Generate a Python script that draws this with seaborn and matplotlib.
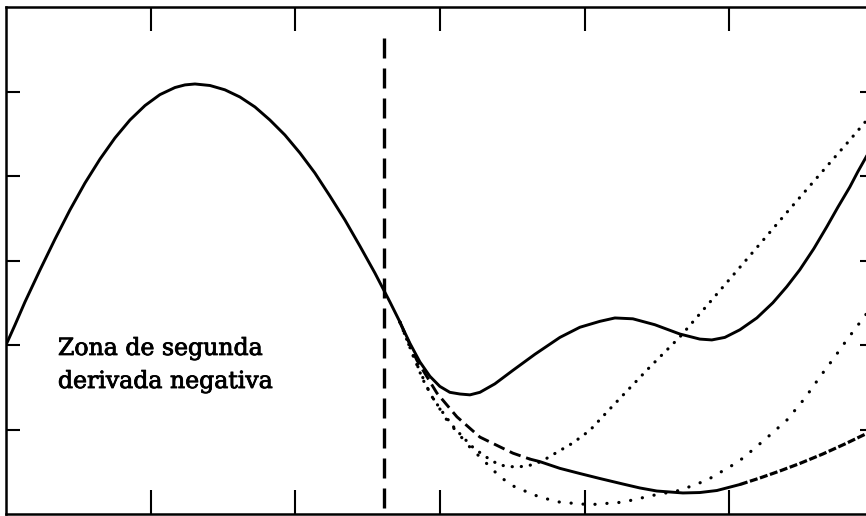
import numpy as np
import pandas as pd
import matplotlib
matplotlib.use("Agg")
import matplotlib.pyplot as plt
import matplotlib.patheffects as pe
import seaborn as sns

# ---- data (axis units: x ticks at 1..5, y ticks at 1..5) ----
main_x = [0.000, 0.062, 0.131, 0.235, 0.339, 0.442, 0.546, 0.650, 0.753, 0.857,
          0.961, 1.064, 1.168, 1.237, 1.306, 1.410, 1.513, 1.617, 1.721, 1.824,
          1.928, 2.032, 2.135, 2.239, 2.343, 2.446, 2.550, 2.654, 2.723]
main_y = [2.000, 2.237, 2.509, 2.888, 3.254, 3.598, 3.917, 4.201, 4.450, 4.663,
          4.834, 4.963, 5.047, 5.078, 5.089, 5.071, 5.020, 4.935, 4.817, 4.663,
          4.485, 4.272, 4.036, 3.763, 3.479, 3.172, 2.852, 2.509, 2.272]

upper_x = [2.723, 2.792, 2.861, 2.930, 2.999, 3.068, 3.138, 3.207, 3.276, 3.379,
           3.504, 3.656, 3.829, 3.967, 4.105, 4.209, 4.333, 4.485, 4.658, 4.796,
           4.879, 4.969, 5.073, 5.190, 5.301, 5.397, 5.487, 5.584, 5.674, 5.750,
           5.833, 5.888, 5.957]
upper_y = [2.27, 2.02, 1.80, 1.63, 1.51, 1.44, 1.42, 1.41, 1.44, 1.54,
           1.70, 1.89, 2.09, 2.21, 2.28, 2.32, 2.31, 2.24, 2.13, 2.07,
           2.06, 2.09, 2.18, 2.32, 2.50, 2.69, 2.89, 3.14, 3.40, 3.63,
           3.87, 4.05, 4.26]

lower_x = [2.723, 2.840, 2.979, 3.117, 3.276, 3.504, 3.621, 3.690, 3.829, 3.967,
           4.105, 4.264, 4.382, 4.499, 4.679, 4.796, 4.914, 5.073, 5.211, 5.349,
           5.487, 5.646, 5.798, 5.957]
lower_y = [2.27, 1.82, 1.43, 1.15, 0.91, 0.72, 0.65, 0.62, 0.54, 0.479,
           0.420, 0.355, 0.308, 0.272, 0.249, 0.254, 0.278, 0.349, 0.426, 0.509,
           0.598, 0.710, 0.828, 0.959]

dot1_x = [2.723, 2.813, 2.882, 2.951, 3.020, 3.089, 3.158, 3.227, 3.297, 3.359,
          3.414, 3.483, 3.552, 3.607, 3.670, 3.739, 3.808, 3.918, 4.036, 4.174,
          4.312, 4.451, 4.658, 4.831, 5.024, 5.211, 5.397, 5.556, 5.715, 5.833,
          5.957]
dot1_y = [2.27, 1.88, 1.59, 1.37, 1.20, 1.04, 0.91, 0.79, 0.70, 0.63,
          0.58, 0.56, 0.56, 0.57, 0.60, 0.66, 0.73, 0.84, 0.99, 1.243,
          1.491, 1.740, 2.095, 2.438, 2.822, 3.195, 3.568, 3.882, 4.195, 4.426,
          4.675]

dot2_x = [2.723, 2.827, 2.930, 3.048, 3.207, 3.345, 3.414, 3.518, 3.690, 3.829,
          4.036, 4.264, 4.471, 4.658, 4.845, 5.024, 5.093, 5.245, 5.397, 5.522,
          5.625, 5.729, 5.812, 5.957]
dot2_y = [2.27, 1.82, 1.43, 1.11, 0.79, 0.56, 0.44, 0.32, 0.20, 0.14,
          0.11, 0.14, 0.22, 0.28, 0.40, 0.58, 0.66, 0.88, 1.11, 1.37,
          1.62, 1.86, 2.06, 2.39]

vline_x = [2.61, 2.61]
vline_y = [0.07, 5.70]

x_ticks = [1, 2, 3, 4, 5]
y_ticks = [1, 2, 3, 4, 5]
label_lines = ["Zona de segunda", "derivada negativa"]
label_x = 0.359
label_y = [1.882, 1.491]

# ---- figure ----
sns.set_style("ticks")
plt.rcParams['font.family'] = ['DejaVu Serif']

fig = plt.figure(figsize=(8.66, 5.16), dpi=100)
ax = fig.add_axes([6 / 866, 2 / 516, 868 / 866, 507 / 516])

ink = "black"

def draw(xs, ys, **kw):
    df = pd.DataFrame({"x": xs, "y": ys})
    sns.lineplot(data=df, x="x", y="y", sort=False, estimator=None, ax=ax,
                 color=ink, legend=False, solid_joinstyle="round",
                 dash_joinstyle="round", **kw)

draw(main_x, main_y, linewidth=2.1)
draw(upper_x, upper_y, linewidth=2.1)

# lower branch: dashed, then solid, then dense dashes
i1, i2 = 6, 17
draw(lower_x[:i1 + 1], lower_y[:i1 + 1], linewidth=2.1, linestyle=(0, (4, 2)))
draw(lower_x[i1:i2 + 1], lower_y[i1:i2 + 1], linewidth=2.1)
draw(lower_x[i2:], lower_y[i2:], linewidth=2.3, linestyle=(0, (2.5, 0.8)))

draw(dot1_x, dot1_y, linewidth=2.3, linestyle=(0, (0.05, 2.8)), dash_capstyle="round")
draw(dot2_x, dot2_y, linewidth=2.3, linestyle=(0, (0.05, 3.7)), dash_capstyle="round")

draw(vline_x, vline_y, linewidth=2.4, linestyle=(0, (6.0, 3.0)))

for txt, ty in zip(label_lines, label_y):
    ax.text(label_x, ty, txt, fontsize=17, ha="left", va="baseline",
            color=ink, family=['DejaVu Serif'],
            path_effects=[pe.withStroke(linewidth=0.6, foreground=ink)])

ax.set_xlim(0, 6)
ax.set_ylim(0, 6)
ax.set_xticks(x_ticks)
ax.set_yticks(y_ticks)
ax.set_xticklabels([])
ax.set_yticklabels([])
ax.set_xlabel("")
ax.set_ylabel("")
ax.tick_params(axis="x", direction="in", length=17, width=1.5, top=True, bottom=True, color=ink)
ax.tick_params(axis="y", direction="in", length=10, width=1.5, left=True, right=True, color=ink)
for s in ax.spines.values():
    s.set_visible(True)
    s.set_linewidth(1.8)
    s.set_color(ink)
ax.grid(False)

fig.savefig("out.png", dpi=100, facecolor="white")
